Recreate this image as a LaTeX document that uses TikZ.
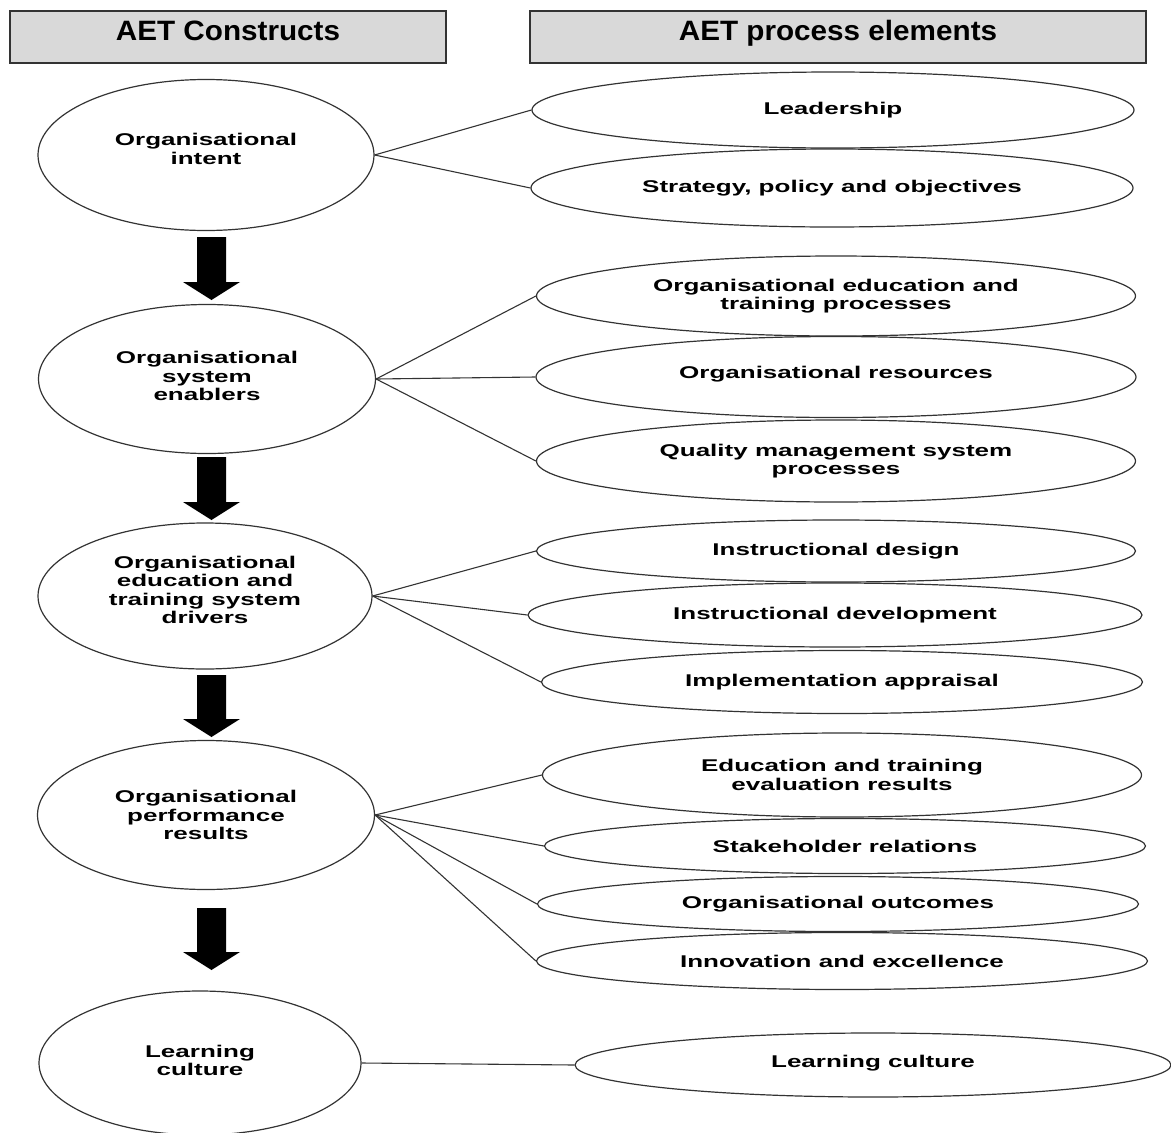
\documentclass[tikz,border=0pt]{standalone}
\usepackage{fontspec}
\setmainfont{Liberation Sans}
\newfontfamily\headfont[FakeStretch=1.06]{Liberation Sans}
\newfontfamily\elfont[FakeStretch=1.53]{Liberation Sans}
\usetikzlibrary{shapes.geometric,calc}

% block arrow between two stacked constructs: #1 = top of shaft, #2 = tip
\newcommand\flowarrow[2]{%
  \fill[black] ($(#1)+(-14.5,0)$) -- ($(#1)+(14.5,0)$) -- ($(#2)+(14.5,-18)$)
    -- ($(#2)+(28.5,-18)$) -- (#2) -- ($(#2)+(-28.5,-18)$)
    -- ($(#2)+(-14.5,-18)$) -- cycle;}

\begin{document}
\begin{tikzpicture}[x=1pt,y=-1pt,
  outline/.style={draw=black!80, line width=1.2pt},
  construct/.style={outline, ellipse, inner sep=0pt, align=center,
    font=\elfont\bfseries\fontsize{17}{18.5}\selectfont},
  element/.style={construct},
  % deeper text box = label sits a little above the shape's centre
  lift/.style={text depth=#1},
  link/.style={draw=black!80, line width=1.1pt},
  headbox/.style={draw=black!80, line width=1.2pt, fill=black!15, inner sep=0pt},
  headtext/.style={font=\headfont\bfseries\fontsize{28}{30}\selectfont, anchor=base, inner sep=0pt}
]
\useasboundingbox (0,0) rectangle (1171,1133);

% column headings
\node[headbox, minimum width=436, minimum height=52] (hl) at (228,37) {};
\node[headtext] (hlt) at (228,40) {AET Constructs};
\node[headbox, minimum width=616, minimum height=52] (hr) at (838,37) {};
\node[headtext] (hrt) at (838,40) {AET process elements};

% AET constructs
\node[construct, lift=12, minimum width=336, minimum height=151] (c1) at (206,155) {Organisational\\intent};
\node[construct, lift=6, minimum width=337, minimum height=149] (c2) at (207,379) {Organisational\\system\\enablers};
\node[construct, lift=12, minimum width=334, minimum height=146] (c3) at (205,596) {Organisational\\education and\\training system\\drivers};
\node[construct, minimum width=337, minimum height=149] (c4) at (206,815) {Organisational\\performance\\results};
\node[construct, lift=5, minimum width=322, minimum height=144] (c5) at (200,1063) {Learning\\culture};

% AET process elements
\node[element, minimum width=602, minimum height=76] (lead) at (833,110) {Leadership};
\node[element, minimum width=602, minimum height=78] (strat) at (832,188) {Strategy, policy and objectives};
\node[element, minimum width=599, minimum height=80] (oetp) at (836,296) {Organisational education and\\training processes};
\node[element, lift=10, minimum width=600, minimum height=81] (ores) at (836,377) {Organisational resources};
\node[element, minimum width=599, minimum height=82] (qms) at (836,461) {Quality management system\\processes};
\node[element, minimum width=599, minimum height=62] (ides) at (836,551) {Instructional design};
\node[element, minimum width=614, minimum height=64] (idev) at (835,615) {Instructional development};
\node[element, minimum width=601, minimum height=63] (iapp) at (842,682) {Implementation appraisal};
\node[element, minimum width=599, minimum height=84] (etres) at (842,775) {Education and training\\evaluation results};
\node[element, minimum width=601, minimum height=55] (stake) at (845,846) {Stakeholder relations};
\node[element, minimum width=601, minimum height=55] (oout) at (838,904) {Organisational outcomes};
\node[element, minimum width=611, minimum height=57] (innov) at (842,961) {Innovation and excellence};
\node[element, lift=8, minimum width=596, minimum height=64] (lcr) at (873,1065) {Learning culture};

% links from each construct to its process elements
\draw[link] (c1.east) -- (lead.west);
\draw[link] (c1.east) -- (strat.west);
\draw[link] (c2.east) -- (oetp.west);
\draw[link] (c2.east) -- (ores.west);
\draw[link] (c2.east) -- (qms.west);
\draw[link] (c3.east) -- (ides.west);
\draw[link] (c3.east) -- (idev.west);
\draw[link] (c3.east) -- (iapp.west);
\draw[link] (c4.east) -- (etres.west);
\draw[link] (c4.east) -- (stake.west);
\draw[link] (c4.east) -- (oout.west);
\draw[link] (c4.east) -- (innov.west);
\draw[link] (c5.east) -- (lcr.west);

% block arrows down the construct column
\coordinate (a1t) at (211.5,237); \coordinate (a1b) at (211.5,300);
\coordinate (a2t) at (211.5,457); \coordinate (a2b) at (211.5,520);
\coordinate (a3t) at (211.5,675); \coordinate (a3b) at (211.5,737);
\coordinate (a4t) at (211.5,908); \coordinate (a4b) at (211.5,970);
\flowarrow{a1t}{a1b}
\flowarrow{a2t}{a2b}
\flowarrow{a3t}{a3b}
\flowarrow{a4t}{a4b}
\end{tikzpicture}
\end{document}
